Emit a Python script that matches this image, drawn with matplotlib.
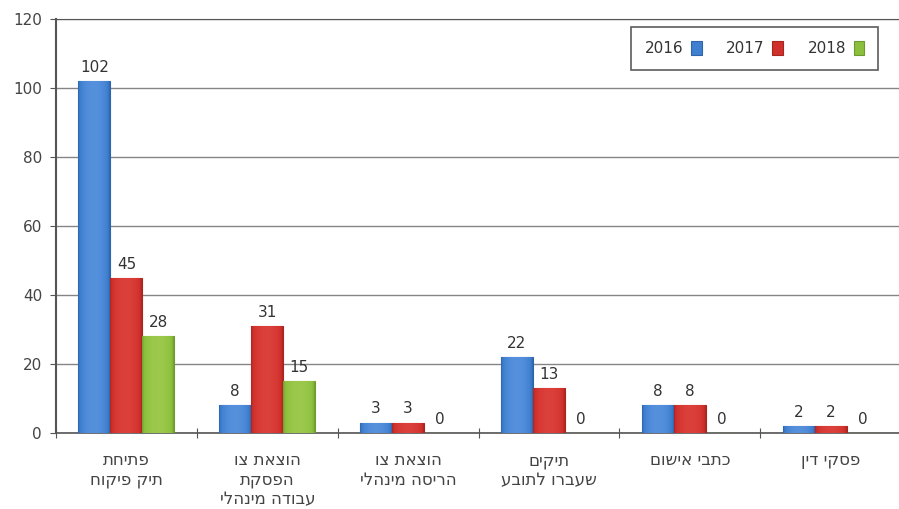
import matplotlib
matplotlib.use("Agg")
import matplotlib.pyplot as plt
from matplotlib.colors import LinearSegmentedColormap
import numpy as np

# נתונים
categories = ["פתיחת\nתיק פיקוח", "הוצאת צו\nהפסקת\nעבודה מינהלי", "הוצאת צו\nהריסה מינהלי",
              "תיקים\nשעברו לתובע", "כתבי אישום", "פסקי דין"]
years = ["2016", "2017", "2018"]
v2016 = [102, 8, 3, 22, 8, 2]
v2017 = [45, 31, 3, 13, 8, 2]
v2018 = [28, 15, 0, 0, 0, 0]
yticks = [0, 20, 40, 60, 80, 100, 120]

colors = ["#3f7fd0", "#d0302c", "#8cbf3c"]
lights = ["#5590dc", "#dc403a", "#9cc94c"]
edges = ["#2f64a8", "#a8251f", "#6e9a30"]


def rtl(s):
    # matplotlib אינו מטפל בכיוון עברית - הופכים כל שורה
    return "\n".join(line[::-1] for line in s.split("\n"))


plt.rcParams["font.family"] = ["DejaVu Sans"]
fig = plt.figure(figsize=(8.99, 5.09), dpi=100)
ax = fig.add_axes([56 / 899, 1 - 433 / 509, 845 / 899, 414 / 509])

x = np.arange(len(categories))
w = 0.227
grad = np.linspace(0, 1, 64)
grad = np.vstack([np.sin(np.pi * grad) ** 0.5] * 2)
for i, vals in enumerate([v2016, v2017, v2018]):
    pos = x + (i - 1) * w
    bars = ax.bar(pos, vals, w, color=colors[i], edgecolor=edges[i], linewidth=0.8,
                  label=years[i], zorder=3)
    cmap = LinearSegmentedColormap.from_list("g%d" % i, [edges[i], colors[i], lights[i]])
    for b in bars:
        if b.get_height() <= 0:
            continue
        im = ax.imshow(grad, cmap=cmap, aspect="auto", zorder=3.1,
                       extent=[b.get_x(), b.get_x() + b.get_width(), 0, b.get_height()])
        im.set_clip_path(b)
    for px, v in zip(pos, vals):
        ax.text(px, v + 1.8, str(v), ha="center", va="bottom", fontsize=11,
                color="#333333", zorder=4)

ax.set_xlim(-0.5, len(categories) - 0.5)
ax.set_ylim(0, 120)
ax.set_aspect("auto")
ax.set_yticks(yticks)
ax.set_yticklabels([str(t) for t in yticks], fontsize=11, color="#444444")
ax.yaxis.grid(True, color="#858585", linewidth=1, zorder=0)
ax.tick_params(axis="y", length=4, direction="out", color="#555555", pad=6)

# תוויות קטגוריה ממורכזות, סימוני ציר בגבולות הקבוצות
ax.set_xticks(np.arange(len(categories) + 1) - 0.5)
ax.set_xticklabels([])
ax.tick_params(axis="x", length=7, direction="inout", color="#555555")
for xi, c in zip(x, categories):
    ax.text(xi, -5.3, rtl(c), ha="center", va="top", fontsize=12,
            color="#444444", linespacing=1.1)

ax.spines["right"].set_visible(False)
for s in ["top", "left", "bottom"]:
    ax.spines[s].set_color("#555555")
ax.spines["left"].set_linewidth(1.5)
ax.spines["bottom"].set_linewidth(1.2)

leg = ax.legend(loc="upper right", bbox_to_anchor=((878 - 56) / 845, (433 - 27) / 414), ncol=3,
                markerfirst=False, frameon=True, fancybox=False, fontsize=11,
                handlelength=0.7, handleheight=1.1, columnspacing=1.6, handletextpad=0.5,
                borderpad=0.9, borderaxespad=0, edgecolor="#333333")
leg.get_frame().set_linewidth(1.2)
for t in leg.get_texts():
    t.set_color("#333333")

fig.savefig("out.png", dpi=100)
